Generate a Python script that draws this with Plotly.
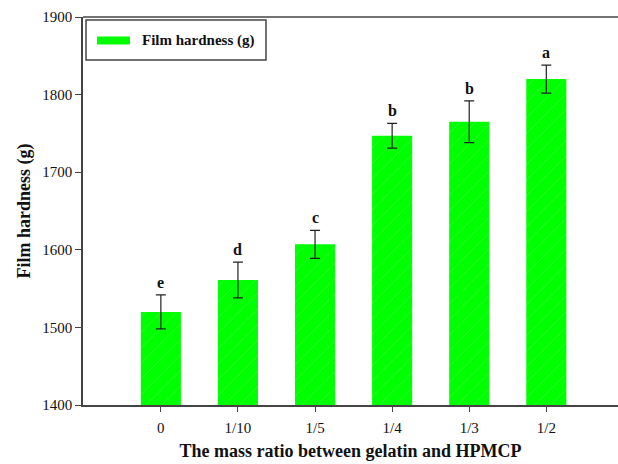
import plotly.graph_objects as go

# Film hardness for each gelatin:HPMCP mass ratio
ratios = ["0", "1/10", "1/5", "1/4", "1/3", "1/2"]
hardness = [1520, 1561, 1607, 1747, 1765, 1820]
hardness_sd = [22, 23, 18, 16, 27, 18]
sig_letters = ["e", "d", "c", "b", "b", "a"]
series_name = "Film hardness (g)"

serif = "Liberation Serif, Times New Roman, serif"
axis_color = "#444444"
bar_green = "#00ff00"

W, H = 618, 464
L, R, T, B = 83, 0, 17, 59
pw, ph = W - L - R, H - T - B


def px(x):
    return (x - L) / pw


def py(y):
    return (H - B - y) / ph


fig = go.Figure()
fig.add_trace(go.Bar(
    x=list(range(len(ratios))),
    y=hardness,
    width=0.52,
    name=series_name,
    showlegend=False,
    marker=dict(
        color=bar_green,
        line=dict(width=0),
        pattern=dict(shape="/", fgcolor="rgba(255,255,255,0.4)",
                     size=11, solidity=0.07, fillmode="overlay"),
    ),
    error_y=dict(type="data", array=hardness_sd, visible=True,
                 color="#222222", thickness=1.2, width=5),
))

# significance letters above each error bar
for i, (v, e, s) in enumerate(zip(hardness, hardness_sd, sig_letters)):
    fig.add_annotation(x=i, y=v + e, text=f"<b>{s}</b>", showarrow=False,
                       yanchor="bottom", yshift=2,
                       font=dict(family=serif, size=16, color="#111111"))

# legend box with a wide swatch
fig.add_shape(type="rect", xref="paper", yref="paper",
              x0=px(86), x1=px(266), y0=py(60), y1=py(20),
              line=dict(color=axis_color, width=1.5), fillcolor="white")
fig.add_shape(type="rect", xref="paper", yref="paper",
              x0=px(97), x1=px(130), y0=py(44.5), y1=py(36.5),
              line=dict(width=0), fillcolor=bar_green)
fig.add_annotation(xref="paper", yref="paper", x=px(140), y=py(40.5),
                   xanchor="left", yanchor="middle", showarrow=False,
                   text=f"<b>{series_name}</b>",
                   font=dict(family=serif, size=15, color="#111111"))

# top frame line running off the right edge
fig.add_shape(type="line", xref="paper", yref="paper",
              x0=0, x1=1.05, y0=1, y1=1,
              line=dict(color=axis_color, width=1.5))

fig.update_layout(
    width=W, height=H,
    margin=dict(l=L, r=R, t=T, b=B),
    plot_bgcolor="white", paper_bgcolor="white",
    showlegend=False,
    font=dict(family=serif, color="#111111"),
)

fig.update_xaxes(
    range=[-1.01, 5.93],
    tickmode="array", tickvals=list(range(len(ratios))), ticktext=ratios,
    ticks="outside", ticklen=5, tickwidth=1.2, tickcolor=axis_color,
    showline=True, linecolor=axis_color, linewidth=1.5, mirror=False,
    showgrid=False, zeroline=False, ticklabelstandoff=3,
    tickfont=dict(family=serif, size=15, color="#111111"),
    title=dict(text="<b>The mass ratio between gelatin and HPMCP</b>",
               font=dict(family=serif, size=18, color="#111111"), standoff=10),
)
fig.update_yaxes(
    range=[1400, 1900],
    tickvals=[1400, 1500, 1600, 1700, 1800, 1900],
    ticks="outside", ticklen=6, tickwidth=1.2, tickcolor=axis_color,
    showline=True, linecolor=axis_color, linewidth=1.5, mirror=False,
    showgrid=False, zeroline=False,
    tickfont=dict(family=serif, size=15, color="#111111"),
    title=dict(text="<b>Film hardness (g)</b>",
               font=dict(family=serif, size=18, color="#111111"), standoff=7),
)

fig.write_html("out.html")
